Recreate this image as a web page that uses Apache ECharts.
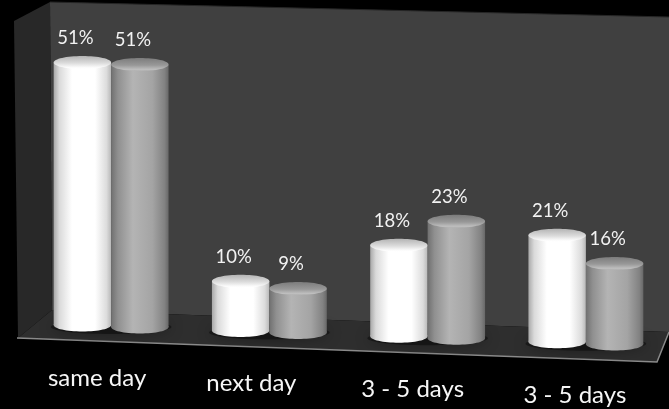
<!DOCTYPE html>
<html>
<head>
<meta charset="utf-8">
<style>html,body{margin:0;padding:0;background:#000}#c{width:669px;height:409px}</style>
<script src="https://cdn.jsdelivr.net/npm/echarts@6/dist/echarts.min.js"></script>
</head>
<body>
<div id="c"></div>
<script>
// Share of shipments by delivery time, two cylinder series per category.
var categories = ['same day', 'next day', '3 - 5 days', '3 - 5 days'];
var seriesA = [51, 10, 18, 21];
var seriesB = [51, 9, 23, 16];

var TILT = 0.0356;      // the floor falls to the right in the 3D view
var RY = 6.5;           // vertical radius of each cylinder's ellipse
var BAND_SHARE = 0.363; // cylinder width relative to a category band
var FLOOR_LIFT = 2.7;   // cylinders stand slightly above the zero plane
var NAME_SHIFT = [-14, -18, -15, -11]; // horizontal nudge of the category names

var whiteBody = {type: 'linear', x: 0, y: 0, x2: 1, y2: 0, colorStops: [
  {offset: 0, color: '#a8a8a8'}, {offset: 0.1, color: '#dadada'}, {offset: 0.32, color: '#ffffff'},
  {offset: 0.72, color: '#ffffff'}, {offset: 0.92, color: '#dcdcdc'}, {offset: 1, color: '#b8b8b8'}]};
var whiteCap = {type: 'linear', x: 0, y: 0, x2: 0, y2: 1, colorStops: [
  {offset: 0, color: '#b4b4b4'}, {offset: 0.55, color: '#dcdcdc'}, {offset: 0.88, color: '#fbfbfb'}, {offset: 1, color: '#ffffff'}]};
var greyBody = {type: 'linear', x: 0, y: 0, x2: 1, y2: 0, colorStops: [
  {offset: 0, color: '#707070'}, {offset: 0.12, color: '#909090'}, {offset: 0.38, color: '#b4b4b4'},
  {offset: 0.72, color: '#a4a4a4'}, {offset: 0.93, color: '#828282'}, {offset: 1, color: '#686868'}]};
var greyCap = {type: 'linear', x: 0, y: 0, x2: 0, y2: 1, colorStops: [
  {offset: 0, color: '#7c7c7c'}, {offset: 0.55, color: '#989898'}, {offset: 0.88, color: '#bebebe'}, {offset: 1, color: '#b0b0b0'}]};

function tilted(p) { return [p[0], p[1] + TILT * p[0]]; }

// Back wall, side wall and floor of the chart's box.
function renderRoom() {
  return {type: 'group', silent: true, children: [
    {type: 'polygon', shape: {points: [[50, 2], [669, 17], [669, 332], [52, 310]]}, style: {fill: '#404040'}},
    {type: 'polygon', shape: {points: [[14, 21], [50, 2], [52, 310], [18, 338]]}, style: {fill: '#282828'}},
    {type: 'polygon', shape: {points: [[18, 338], [52, 310], [669, 332], [657, 362]]}, style: {fill: '#2e2e2e'}},
    {type: 'polyline', shape: {points: [[17, 338], [657, 362], [669, 332]]}, style: {fill: null, stroke: '#8a8a8a', lineWidth: 1.5}},
    {type: 'line', shape: {x1: 50, y1: 2, x2: 669, y2: 17}, style: {stroke: '#262626', lineWidth: 1}}
  ]};
}

// Soft pool of shadow under each pair of cylinders.
function renderShadow(params, api) {
  var c = tilted(api.coord([api.value(0), 0]));
  var w = api.size([1, 0])[0] * BAND_SHARE;
  return {type: 'ellipse', silent: true,
    shape: {cx: c[0], cy: c[1] - FLOOR_LIFT + 1, rx: w * 1.05, ry: 7},
    style: {fill: 'rgba(0,0,0,0.4)', shadowBlur: 14, shadowColor: 'rgba(0,0,0,0.9)'}};
}

function makeCylinder(side, body, cap) {
  return function (params, api) {
    var idx = api.value(0), v = api.value(1);
    var w = api.size([1, 0])[0] * BAND_SHARE;
    var mid = api.coord([idx, 0]);
    var cx = mid[0] + side * w / 2;
    var bottom = tilted([cx, mid[1] - FLOOR_LIFT]);
    var top = tilted([cx, api.coord([idx, v])[1]]);
    return {type: 'group', children: [
      {type: 'ellipse', silent: true, shape: {cx: cx, cy: bottom[1], rx: w / 2, ry: RY}, style: {fill: body}},
      {type: 'rect', shape: {x: cx - w / 2, y: top[1], width: w, height: bottom[1] - top[1]}, style: {fill: body}},
      {type: 'ellipse', silent: true, shape: {cx: cx, cy: top[1], rx: w / 2, ry: RY}, style: {fill: cap}},
      {type: 'text', silent: true, x: cx - 7, y: top[1] - 24.5, style: {
        text: v + '%', fill: '#f2f2f2', font: '18.5px Lato', align: 'center', verticalAlign: 'middle'}}
    ]};
  };
}

// Category names follow the tilt of the floor's front edge.
function renderCategory(params, api) {
  var i = api.value(0);
  var c = tilted(api.coord([i, 0]));
  return {type: 'text', silent: true, x: c[0] + NAME_SHIFT[i], y: c[1] + 49.3, style: {
    text: categories[i], fill: '#f6f6f6', font: '24px Lato', align: 'center', verticalAlign: 'middle'}};
}

var indexRows = categories.map(function (_, i) { return [i]; });
function rows(values) { return values.map(function (v, i) { return [i, v]; }); }

var chart = echarts.init(document.getElementById('c'), null, {renderer: 'canvas'});
chart.setOption({
  backgroundColor: '#000000',
  animation: false,
  grid: {left: 32, top: 12.7, width: 633, height: 312},
  xAxis: {type: 'category', data: categories.map(function (_, i) { return i; }), show: false},
  yAxis: {type: 'value', min: 0, max: 60, show: false},
  series: [
    {type: 'custom', z: 1, data: [[0]], renderItem: renderRoom, encode: {x: 0}},
    {type: 'custom', z: 2, data: indexRows, renderItem: renderShadow, encode: {x: 0}},
    {type: 'custom', z: 3, name: 'A', data: rows(seriesA), renderItem: makeCylinder(-1, whiteBody, whiteCap), encode: {x: 0, y: 1}},
    {type: 'custom', z: 4, name: 'B', data: rows(seriesB), renderItem: makeCylinder(1, greyBody, greyCap), encode: {x: 0, y: 1}},
    {type: 'custom', z: 5, data: indexRows, renderItem: renderCategory, encode: {x: 0}}
  ]
});
</script>
</body>
</html>
